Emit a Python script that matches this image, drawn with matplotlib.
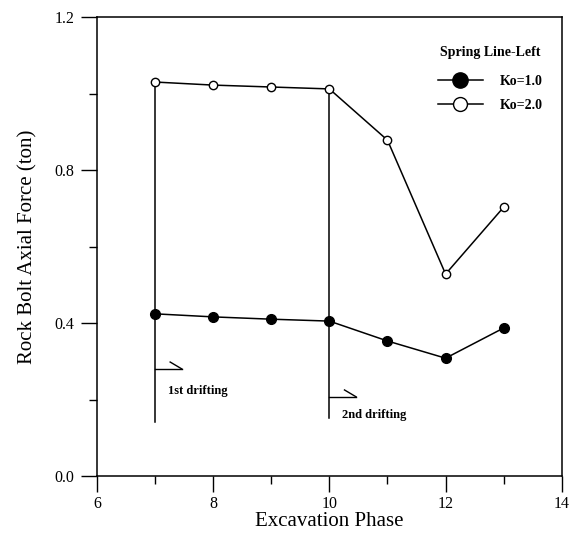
import matplotlib.pyplot as plt
from matplotlib.lines import Line2D
from matplotlib.ticker import MultipleLocator

plt.rcParams['font.family'] = ['Liberation Serif', 'DejaVu Serif']

phase = [7, 8, 9, 10, 11, 12, 13]
ko_1 = [0.424, 0.416, 0.410, 0.405, 0.353, 0.308, 0.387]
ko_2 = [1.030, 1.022, 1.017, 1.012, 0.878, 0.528, 0.703]

# drifting stages: start phase, marker line bottom, arrow height, label height
drift_start = [7, 10]
drift_bottom = [0.141, 0.152]
drift_arrow_y = [0.280, 0.207]
drift_text_y = [0.222, 0.160]
drift_labels = ['1st drifting', '2nd drifting']

fig = plt.figure(figsize=(5.84, 5.4), dpi=100)
ax = fig.add_axes([0.166, 0.1185, 0.796, 0.85])

ax.plot(phase, ko_1, color='black', lw=1.1, marker='o', ms=7,
        mfc='black', mec='black', zorder=3)
ax.plot(phase, ko_2, color='black', lw=1.1, marker='o', ms=6,
        mfc='white', mec='black', mew=1.0, zorder=3)

# vertical stage lines with little half arrows
for i, x0 in enumerate(drift_start):
    top = ko_2[phase.index(x0)]
    ax.plot([x0, x0], [drift_bottom[i], top], color='black', lw=1.1, zorder=2)
    ay = drift_arrow_y[i]
    tip = x0 + 0.46
    ax.plot([x0, tip], [ay, ay], color='black', lw=1.0)
    ax.plot([tip - 0.2, tip], [ay + 0.018, ay], color='black', lw=1.0)
    ax.text(x0 + 0.22, drift_text_y[i], drift_labels[i], fontsize=9,
            fontweight='bold', va='center', ha='left')

ax.set_xlim(6, 14)
ax.set_ylim(0, 1.2)
ax.xaxis.set_major_locator(MultipleLocator(2))
ax.xaxis.set_minor_locator(MultipleLocator(1))
ax.yaxis.set_major_locator(MultipleLocator(0.4))
ax.yaxis.set_minor_locator(MultipleLocator(0.2))
ax.yaxis.set_major_formatter(plt.FuncFormatter(lambda v, p: f'{v:.1f}'))
ax.tick_params(which='major', direction='out', length=11.5, width=1.0,
               labelsize=11.5, pad=5)
ax.tick_params(which='minor', direction='out', length=6, width=1.0)
ax.tick_params(axis='x', which='major', pad=3)
for s in ax.spines.values():
    s.set_linewidth(1.1)

ax.set_xlabel('Excavation Phase', fontsize=15, labelpad=0)
ax.set_ylabel('Rock Bolt Axial Force (ton)', fontsize=15, labelpad=12)

handles = [
    Line2D([], [], color='black', lw=1.1, marker='o', ms=11,
           mfc='black', mec='black'),
    Line2D([], [], color='black', lw=1.1, marker='o', ms=10,
           mfc='white', mec='black'),
]
leg = ax.legend(handles, ['Ko=1.0', 'Ko=2.0'], title='Spring Line-Left',
                loc='upper right', bbox_to_anchor=(0.985, 0.965), frameon=False,
                fontsize=10, title_fontsize=10, handlelength=3.2,
                handletextpad=1.2, labelspacing=0.75)
leg.get_title().set_fontweight('bold')
leg._legend_box.sep = 12
for t in leg.get_texts():
    t.set_fontweight('bold')

fig.savefig('out.png', dpi=100)
